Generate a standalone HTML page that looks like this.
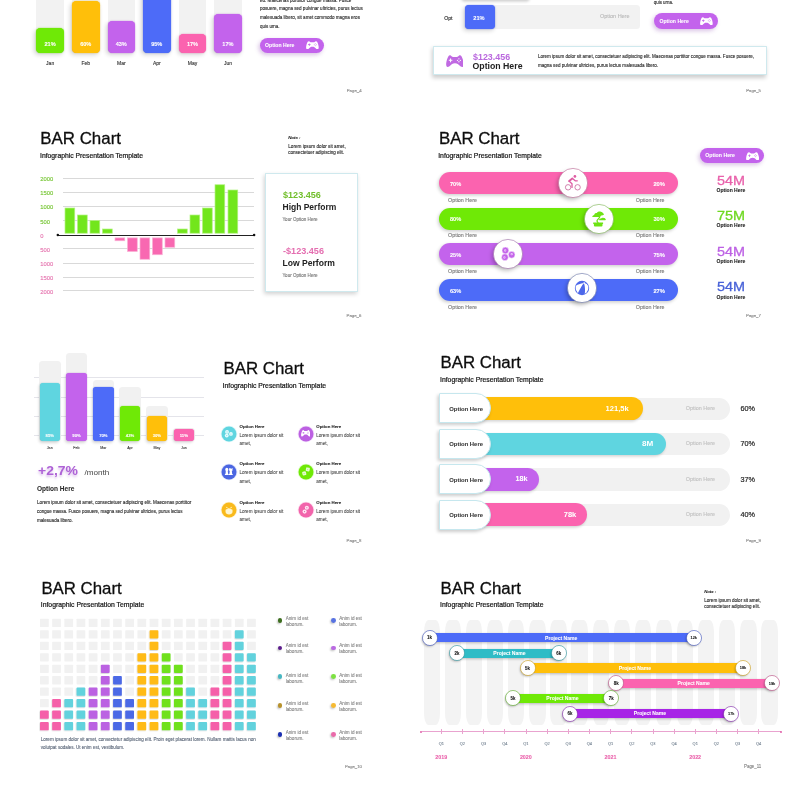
<!DOCTYPE html>
<html lang="en">
<head>
<meta charset="utf-8">
<title>BAR Chart – Infographic Presentation Template</title>
<style>
html,body{margin:0;padding:0;background:#fff;}
body{width:800px;height:800px;position:relative;overflow:hidden;font-family:"Liberation Sans",sans-serif;}
.t{position:absolute;white-space:nowrap;display:block;}
.b{position:absolute;display:block;}
</style>
</head>
<body>
<div class="b" style="left:36.2px;top:-5px;width:27.8px;height:58px;background:#f2f2f2;border-radius:3px;"></div>
<div class="b" style="left:72px;top:-5px;width:27.5px;height:58px;background:#f2f2f2;border-radius:3px;"></div>
<div class="b" style="left:107.5px;top:-5px;width:27.5px;height:58px;background:#f2f2f2;border-radius:3px;"></div>
<div class="b" style="left:143px;top:-5px;width:27.5px;height:58px;background:#f2f2f2;border-radius:3px;"></div>
<div class="b" style="left:178.75px;top:-5px;width:27.5px;height:58px;background:#f2f2f2;border-radius:3px;"></div>
<div class="b" style="left:214px;top:-5px;width:27.75px;height:58px;background:#f2f2f2;border-radius:3px;"></div>
<div class="b" style="left:36.2px;top:28px;width:27.8px;height:25px;background:#6fe906;border-radius:4.2px;box-shadow:-1.5px 2px 4px rgba(0,0,0,.16),0 0 1.2px #6fe906;"></div>
<span class="t" style="left:44.5px;top:41px;font-size:5.6px;line-height:7px;color:#fff;font-weight:700;-webkit-text-stroke:0.07px #fff;">21%</span>
<span class="t" style="left:46.11px;top:60px;font-size:5.01px;line-height:7px;color:#333;-webkit-text-stroke:0.12px #333;">Jan</span>
<div class="b" style="left:72px;top:1px;width:27.5px;height:52px;background:#ffbf0a;border-radius:4.2px;box-shadow:-1.5px 2px 4px rgba(0,0,0,.16),0 0 1.2px #ffbf0a;"></div>
<span class="t" style="left:80.15px;top:41px;font-size:5.6px;line-height:7px;color:#fff;font-weight:700;-webkit-text-stroke:0.07px #fff;">60%</span>
<span class="t" style="left:81.49px;top:60px;font-size:5.01px;line-height:7px;color:#333;-webkit-text-stroke:0.12px #333;">Feb</span>
<div class="b" style="left:107.5px;top:20.5px;width:27.5px;height:32.5px;background:#c363ec;border-radius:4.2px;box-shadow:-1.5px 2px 4px rgba(0,0,0,.16),0 0 1.2px #c363ec;"></div>
<span class="t" style="left:115.65px;top:41px;font-size:5.6px;line-height:7px;color:#fff;font-weight:700;-webkit-text-stroke:0.07px #fff;">43%</span>
<span class="t" style="left:116.99px;top:60px;font-size:5.01px;line-height:7px;color:#333;-webkit-text-stroke:0.12px #333;">Mar</span>
<div class="b" style="left:143px;top:-10px;width:27.5px;height:63px;background:#4d6bf8;border-radius:4.2px;box-shadow:-1.5px 2px 4px rgba(0,0,0,.16),0 0 1.2px #4d6bf8;"></div>
<span class="t" style="left:151.15px;top:41px;font-size:5.6px;line-height:7px;color:#fff;font-weight:700;-webkit-text-stroke:0.07px #fff;">95%</span>
<span class="t" style="left:152.9px;top:60px;font-size:5.01px;line-height:7px;color:#333;-webkit-text-stroke:0.12px #333;">Apr</span>
<div class="b" style="left:178.75px;top:33.5px;width:27.5px;height:19.5px;background:#fb63af;border-radius:4.2px;box-shadow:-1.5px 2px 4px rgba(0,0,0,.16),0 0 1.2px #fb63af;"></div>
<span class="t" style="left:186.9px;top:41px;font-size:5.6px;line-height:7px;color:#fff;font-weight:700;-webkit-text-stroke:0.07px #fff;">17%</span>
<span class="t" style="left:187.82px;top:60px;font-size:5.01px;line-height:7px;color:#333;-webkit-text-stroke:0.12px #333;">May</span>
<div class="b" style="left:214px;top:13.5px;width:27.75px;height:39.5px;background:#c363ec;border-radius:4.2px;box-shadow:-1.5px 2px 4px rgba(0,0,0,.16),0 0 1.2px #c363ec;"></div>
<span class="t" style="left:222.28px;top:41px;font-size:5.6px;line-height:7px;color:#fff;font-weight:700;-webkit-text-stroke:0.07px #fff;">17%</span>
<span class="t" style="left:223.88px;top:60px;font-size:5.01px;line-height:7px;color:#333;-webkit-text-stroke:0.12px #333;">Jun</span>
<span class="t" style="left:260px;top:-2px;font-size:4.57px;line-height:6px;color:#2b2b2b;-webkit-text-stroke:0.12px #2b2b2b;">eu. Maecenas porttitor congue massa. Fusce</span>
<span class="t" style="left:260px;top:6px;font-size:4.57px;line-height:6px;color:#2b2b2b;-webkit-text-stroke:0.12px #2b2b2b;">posuere, magna sed pulvinar ultricies, purus lectus</span>
<span class="t" style="left:260px;top:15px;font-size:4.57px;line-height:6px;color:#2b2b2b;-webkit-text-stroke:0.12px #2b2b2b;">malesuada libero, sit amet commodo magna eros</span>
<span class="t" style="left:260px;top:24px;font-size:4.46px;line-height:6px;color:#2b2b2b;-webkit-text-stroke:0.12px #2b2b2b;">quis urna.</span>
<div class="b" style="left:260px;top:37.5px;width:63.75px;height:15.5px;background:#c363ec;border-radius:7.75px;box-shadow:-1.5px 2px 4px rgba(120,40,160,.28);"></div>
<span class="t" style="left:265.1px;top:42px;font-size:5.12px;line-height:7px;color:#fff;font-weight:700;-webkit-text-stroke:0.07px #fff;">Option Here</span>
<svg class="b" style="left:305.9px;top:40.9px;width:12.8px;height:8.4px" viewBox="0 0 36 24" preserveAspectRatio="none"><path fill="#fff" d="M8 .4C6.6.4 5.6 1 4.9 2.3 2.8 6 .9 11.5.4 16.5 0 20.5.9 23.7 3.4 23.7c2.2 0 3.8-1.1 5.4-2.9C11 18.3 13 16.3 18 16.3s7 2 9.2 4.5c1.6 1.8 3.2 2.9 5.4 2.9 2.5 0 3.4-3.2 3-7.2C35.1 11.5 33.2 6 31.1 2.3 30.4 1 29.4.4 28 .4c-1.6 0-2.4 1.3-3.7 2.6-.7.7-1.5.9-2.5.9h-7.6c-1 0-1.8-.2-2.5-.9C10.4 1.7 9.6.4 8 .4z"/><path fill="#c363ec" d="M8.2 6.9h2v2.6h2.6v2h-2.6v2.6h-2v-2.6H5.6v-2h2.6z"/><circle fill="#c363ec" cx="26" cy="7.6" r="1.3"/><circle fill="#c363ec" cx="26" cy="13.4" r="1.3"/><circle fill="#c363ec" cx="23.1" cy="10.5" r="1.3"/><circle fill="#c363ec" cx="28.9" cy="10.5" r="1.3"/></svg>
<span class="t" style="left:346.75px;top:88px;font-size:4.31px;line-height:6px;color:#858585;-webkit-text-stroke:0.12px #858585;">Page_4</span>
<div class="b" style="left:463px;top:-12px;width:68px;height:12px;background:#fff;border-radius:3px;box-shadow:-1.5px 1.5px 3px rgba(0,0,0,.2);"></div>
<span class="t" style="left:444.25px;top:15px;font-size:5.12px;line-height:7px;color:#222;-webkit-text-stroke:0.12px #222;">Opt</span>
<div class="b" style="left:465px;top:5px;width:174.5px;height:24px;background:#f2f2f2;border-radius:3.5px;"></div>
<div class="b" style="left:465px;top:5px;width:30px;height:24px;background:#4d6bf8;border-radius:4px;box-shadow:-1.5px 2px 4px rgba(0,0,0,.16),0 0 1.2px #4d6bf8;"></div>
<span class="t" style="left:473.3px;top:15px;font-size:5.65px;line-height:7px;color:#fff;font-weight:700;-webkit-text-stroke:0.07px #fff;">21%</span>
<span class="t" style="left:600px;top:13px;font-size:5.47px;line-height:7px;color:#b9b9b9;-webkit-text-stroke:0.12px #b9b9b9;">Option Here</span>
<span class="t" style="left:653.75px;top:0px;font-size:4.45px;line-height:6px;color:#2b2b2b;-webkit-text-stroke:0.12px #2b2b2b;">quis urna.</span>
<div class="b" style="left:653.75px;top:13px;width:64.25px;height:16px;background:#c363ec;border-radius:8px;box-shadow:-1.5px 2px 4px rgba(120,40,160,.28);"></div>
<span class="t" style="left:659.5px;top:18px;font-size:5.11px;line-height:7px;color:#fff;font-weight:700;-webkit-text-stroke:0.07px #fff;">Option Here</span>
<svg class="b" style="left:700px;top:16.5px;width:12.8px;height:8.4px" viewBox="0 0 36 24" preserveAspectRatio="none"><path fill="#fff" d="M8 .4C6.6.4 5.6 1 4.9 2.3 2.8 6 .9 11.5.4 16.5 0 20.5.9 23.7 3.4 23.7c2.2 0 3.8-1.1 5.4-2.9C11 18.3 13 16.3 18 16.3s7 2 9.2 4.5c1.6 1.8 3.2 2.9 5.4 2.9 2.5 0 3.4-3.2 3-7.2C35.1 11.5 33.2 6 31.1 2.3 30.4 1 29.4.4 28 .4c-1.6 0-2.4 1.3-3.7 2.6-.7.7-1.5.9-2.5.9h-7.6c-1 0-1.8-.2-2.5-.9C10.4 1.7 9.6.4 8 .4z"/><path fill="#c363ec" d="M8.2 6.9h2v2.6h2.6v2h-2.6v2.6h-2v-2.6H5.6v-2h2.6z"/><circle fill="#c363ec" cx="26" cy="7.6" r="1.3"/><circle fill="#c363ec" cx="26" cy="13.4" r="1.3"/><circle fill="#c363ec" cx="23.1" cy="10.5" r="1.3"/><circle fill="#c363ec" cx="28.9" cy="10.5" r="1.3"/></svg>
<div class="b" style="left:433px;top:46.25px;width:333.75px;height:28.75px;background:#fff;border-radius:0.5px;border:0.8px solid #cfe9ee;box-sizing:border-box;box-shadow:-1px 2.5px 4px rgba(0,0,0,.2);"></div>
<svg class="b" style="left:445.6px;top:54.75px;width:17.9px;height:12.15px" viewBox="0 0 36 24" preserveAspectRatio="none"><path fill="#c069e2" d="M8 .4C6.6.4 5.6 1 4.9 2.3 2.8 6 .9 11.5.4 16.5 0 20.5.9 23.7 3.4 23.7c2.2 0 3.8-1.1 5.4-2.9C11 18.3 13 16.3 18 16.3s7 2 9.2 4.5c1.6 1.8 3.2 2.9 5.4 2.9 2.5 0 3.4-3.2 3-7.2C35.1 11.5 33.2 6 31.1 2.3 30.4 1 29.4.4 28 .4c-1.6 0-2.4 1.3-3.7 2.6-.7.7-1.5.9-2.5.9h-7.6c-1 0-1.8-.2-2.5-.9C10.4 1.7 9.6.4 8 .4z"/><path fill="#fff" d="M8.2 6.9h2v2.6h2.6v2h-2.6v2.6h-2v-2.6H5.6v-2h2.6z"/><circle fill="#fff" cx="26" cy="7.6" r="1.3"/><circle fill="#fff" cx="26" cy="13.4" r="1.3"/><circle fill="#fff" cx="23.1" cy="10.5" r="1.3"/><circle fill="#fff" cx="28.9" cy="10.5" r="1.3"/></svg>
<span class="t" style="left:472.5px;top:51px;font-size:9.5px;line-height:12px;color:#ba68de;font-weight:700;transform:scaleX(0.936);transform-origin:0 50%;">$123.456</span>
<span class="t" style="left:472.5px;top:61px;font-size:8.74px;line-height:11px;color:#222;font-weight:700;">Option Here</span>
<span class="t" style="left:538px;top:54px;font-size:4.54px;line-height:6px;color:#2b2b2b;-webkit-text-stroke:0.12px #2b2b2b;">Lorem ipsum dolor sit amet, consectetuer adipiscing elit. Maecenas porttitor congue massa. Fusce posuere,</span>
<span class="t" style="left:538px;top:63px;font-size:4.54px;line-height:6px;color:#2b2b2b;-webkit-text-stroke:0.12px #2b2b2b;">magna sed pulvinar ultricies, purus lectus malesuada libero.</span>
<span class="t" style="left:746.25px;top:88px;font-size:4.25px;line-height:6px;color:#858585;-webkit-text-stroke:0.12px #858585;">Page_5</span>
<span class="t" style="left:40.3px;top:129px;font-size:16.89px;line-height:20px;color:#0c0c0c;-webkit-text-stroke:0.3px #111;">BAR Chart</span>
<span class="t" style="left:40px;top:152px;font-size:6.81px;line-height:8px;color:#141414;-webkit-text-stroke:0.2px #141414;">Infographic Presentation Template</span>
<div class="b" style="left:62.5px;top:177.7px;width:191px;height:0.6px;background:#d9d9d9;"></div>
<span class="t" style="left:40.2px;top:176px;font-size:5.85px;line-height:7px;color:#74c531;-webkit-text-stroke:0.12px #74c531;">2000</span>
<div class="b" style="left:62.5px;top:191.8px;width:191px;height:0.6px;background:#d9d9d9;"></div>
<span class="t" style="left:40.2px;top:190px;font-size:5.85px;line-height:7px;color:#74c531;-webkit-text-stroke:0.12px #74c531;">1500</span>
<div class="b" style="left:62.5px;top:205.9px;width:191px;height:0.6px;background:#d9d9d9;"></div>
<span class="t" style="left:40.2px;top:204px;font-size:5.85px;line-height:7px;color:#74c531;-webkit-text-stroke:0.12px #74c531;">1000</span>
<div class="b" style="left:62.5px;top:220px;width:191px;height:0.6px;background:#d9d9d9;"></div>
<span class="t" style="left:40.2px;top:219px;font-size:5.85px;line-height:7px;color:#74c531;-webkit-text-stroke:0.12px #74c531;">500</span>
<span class="t" style="left:40.2px;top:233px;font-size:5.85px;line-height:7px;color:#e573ae;-webkit-text-stroke:0.12px #e573ae;">0</span>
<div class="b" style="left:62.5px;top:248.4px;width:191px;height:0.6px;background:#d9d9d9;"></div>
<span class="t" style="left:40.2px;top:247px;font-size:5.85px;line-height:7px;color:#e573ae;-webkit-text-stroke:0.12px #e573ae;">500</span>
<div class="b" style="left:62.5px;top:262.5px;width:191px;height:0.6px;background:#d9d9d9;"></div>
<span class="t" style="left:40.2px;top:261px;font-size:5.85px;line-height:7px;color:#e573ae;-webkit-text-stroke:0.12px #e573ae;">1000</span>
<div class="b" style="left:62.5px;top:276.6px;width:191px;height:0.6px;background:#d9d9d9;"></div>
<span class="t" style="left:40.2px;top:275px;font-size:5.85px;line-height:7px;color:#e573ae;-webkit-text-stroke:0.12px #e573ae;">1500</span>
<div class="b" style="left:62.5px;top:290.3px;width:191px;height:0.6px;background:#d9d9d9;"></div>
<span class="t" style="left:40.2px;top:289px;font-size:5.85px;line-height:7px;color:#e573ae;-webkit-text-stroke:0.12px #e573ae;">2000</span>
<svg class="b" style="left:0;top:170px;width:400px;height:130px" viewBox="0 170 400 130"><rect x="65" y="208" width="9.75" height="25.2" fill="#72e61c" stroke="#b4f283" stroke-width="0.7"/><rect x="77.5" y="215" width="9.75" height="18.2" fill="#72e61c" stroke="#b4f283" stroke-width="0.7"/><rect x="90" y="220.5" width="9.75" height="12.7" fill="#72e61c" stroke="#b4f283" stroke-width="0.7"/><rect x="102.5" y="229" width="9.75" height="4.2" fill="#72e61c" stroke="#b4f283" stroke-width="0.7"/><rect x="115" y="237.9" width="9.75" height="2.85" fill="#f868b1" stroke="#fbb1d6" stroke-width="0.7"/><rect x="127.5" y="237.9" width="9.75" height="13.6" fill="#f868b1" stroke="#fbb1d6" stroke-width="0.7"/><rect x="140" y="237.9" width="9.75" height="21.35" fill="#f868b1" stroke="#fbb1d6" stroke-width="0.7"/><rect x="152.5" y="237.9" width="9.75" height="16.85" fill="#f868b1" stroke="#fbb1d6" stroke-width="0.7"/><rect x="165" y="237.9" width="9.75" height="9.35" fill="#f868b1" stroke="#fbb1d6" stroke-width="0.7"/><rect x="177.5" y="229" width="9.75" height="4.2" fill="#72e61c" stroke="#b4f283" stroke-width="0.7"/><rect x="190" y="215" width="9.75" height="18.2" fill="#72e61c" stroke="#b4f283" stroke-width="0.7"/><rect x="202.5" y="208" width="9.75" height="25.2" fill="#72e61c" stroke="#b4f283" stroke-width="0.7"/><rect x="215" y="184.75" width="9.75" height="48.45" fill="#72e61c" stroke="#b4f283" stroke-width="0.7"/><rect x="228" y="190" width="9.75" height="43.2" fill="#72e61c" stroke="#b4f283" stroke-width="0.7"/></svg>
<div class="b" style="left:57.75px;top:234.55px;width:196.25px;height:0.7px;background:#222;"></div>
<svg class="b" style="left:50px;top:228px;width:212px;height:14px" viewBox="50 228 212 14"><circle cx="57.8" cy="234.9" r="1.25" fill="#111"/><circle cx="254.1" cy="234.9" r="1.25" fill="#111"/></svg>
<span class="t" style="left:288.25px;top:135px;font-size:4.32px;line-height:6px;color:#222;font-weight:700;font-style:italic;-webkit-text-stroke:0.07px #222;">Note :</span>
<span class="t" style="left:288.25px;top:144px;font-size:4.66px;line-height:6px;color:#2b2b2b;-webkit-text-stroke:0.12px #2b2b2b;">Lorem ipsum dolor sit amet,</span>
<span class="t" style="left:288.25px;top:150px;font-size:4.56px;line-height:6px;color:#2b2b2b;-webkit-text-stroke:0.12px #2b2b2b;">consectetuer adipiscing elit.</span>
<div class="b" style="left:265px;top:173.4px;width:93px;height:118.6px;background:#fff;border-radius:0.5px;border:0.8px solid #cfe9ee;box-sizing:border-box;box-shadow:-1px 2px 4.5px rgba(0,0,0,.18);"></div>
<span class="t" style="left:282.5px;top:189px;font-size:9.51px;line-height:12px;color:#72bf2c;font-weight:700;transform:scaleX(0.956);transform-origin:0 50%;">$123.456</span>
<span class="t" style="left:282.5px;top:202px;font-size:8.49px;line-height:11px;color:#222;font-weight:700;">High Perform</span>
<span class="t" style="left:282.5px;top:217px;font-size:4.55px;line-height:6px;color:#777;-webkit-text-stroke:0.12px #777;">Your Option Here</span>
<span class="t" style="left:282.5px;top:245px;font-size:9.51px;line-height:12px;color:#e46eb0;font-weight:700;transform:scaleX(0.957);transform-origin:0 50%;">-$123.456</span>
<span class="t" style="left:282.5px;top:258px;font-size:8.59px;line-height:11px;color:#222;font-weight:700;">Low Perform</span>
<span class="t" style="left:282.5px;top:273px;font-size:4.55px;line-height:6px;color:#777;-webkit-text-stroke:0.12px #777;">Your Option Here</span>
<span class="t" style="left:346.5px;top:313px;font-size:4.32px;line-height:6px;color:#858585;-webkit-text-stroke:0.12px #858585;">Page_6</span>
<span class="t" style="left:438.9px;top:129px;font-size:16.86px;line-height:20px;color:#0c0c0c;-webkit-text-stroke:0.3px #111;">BAR Chart</span>
<span class="t" style="left:438.2px;top:152px;font-size:6.83px;line-height:8px;color:#141414;-webkit-text-stroke:0.2px #141414;">Infographic Presentation Template</span>
<svg class="b" style="left:0;top:0;width:0;height:0"><defs><filter id="cs" x="-50%" y="-50%" width="200%" height="200%"><feGaussianBlur stdDeviation="2"/></filter></defs></svg>
<div class="b" style="left:439.25px;top:172.4px;width:238.25px;height:21.9px;background:#fb63af;border-radius:11px;box-shadow:-1px 1.5px 3.5px rgba(0,0,0,.2);"></div>
<span class="t" style="left:450px;top:181px;font-size:5.62px;line-height:7px;color:#fff;font-weight:700;-webkit-text-stroke:0.07px #fff;">70%</span>
<span class="t" style="left:653.4px;top:181px;font-size:5.8px;line-height:7px;color:#fff;font-weight:700;-webkit-text-stroke:0.07px #fff;">20%</span>
<span class="t" style="left:448px;top:197px;font-size:5.38px;line-height:7px;color:#7a7a7a;-webkit-text-stroke:0.12px #7a7a7a;">Option Here</span>
<span class="t" style="left:635.75px;top:197px;font-size:5.33px;line-height:7px;color:#7a7a7a;-webkit-text-stroke:0.12px #7a7a7a;">Option Here</span>
<svg class="b" style="left:547.75px;top:158px;width:50px;height:50px" viewBox="-25 -25 50 50"><circle cx="-1.8" cy="2.4" r="14.2" fill="rgba(0,0,0,.26)" filter="url(#cs)"/><circle cx="0" cy="0" r="14.6" fill="#fff" stroke="#b5588a" stroke-width="0.55"/></svg>
<div class="b" style="left:439.25px;top:208px;width:238.25px;height:21.8px;background:#6fe906;border-radius:11px;box-shadow:-1px 1.5px 3.5px rgba(0,0,0,.2);"></div>
<span class="t" style="left:450px;top:216px;font-size:5.62px;line-height:7px;color:#fff;font-weight:700;-webkit-text-stroke:0.07px #fff;">80%</span>
<span class="t" style="left:653.4px;top:216px;font-size:5.8px;line-height:7px;color:#fff;font-weight:700;-webkit-text-stroke:0.07px #fff;">30%</span>
<span class="t" style="left:448px;top:232px;font-size:5.38px;line-height:7px;color:#7a7a7a;-webkit-text-stroke:0.12px #7a7a7a;">Option Here</span>
<span class="t" style="left:635.75px;top:232px;font-size:5.33px;line-height:7px;color:#7a7a7a;-webkit-text-stroke:0.12px #7a7a7a;">Option Here</span>
<svg class="b" style="left:573.8px;top:193.8px;width:50px;height:50px" viewBox="-25 -25 50 50"><circle cx="-1.8" cy="2.4" r="14.2" fill="rgba(0,0,0,.26)" filter="url(#cs)"/><circle cx="0" cy="0" r="14.6" fill="#fff" stroke="#6fae40" stroke-width="0.55"/></svg>
<div class="b" style="left:439.25px;top:243.4px;width:238.25px;height:21.8px;background:#c363ec;border-radius:11px;box-shadow:-1px 1.5px 3.5px rgba(0,0,0,.2);"></div>
<span class="t" style="left:450px;top:252px;font-size:5.62px;line-height:7px;color:#fff;font-weight:700;-webkit-text-stroke:0.07px #fff;">25%</span>
<span class="t" style="left:653.4px;top:252px;font-size:5.8px;line-height:7px;color:#fff;font-weight:700;-webkit-text-stroke:0.07px #fff;">75%</span>
<span class="t" style="left:448px;top:268px;font-size:5.38px;line-height:7px;color:#7a7a7a;-webkit-text-stroke:0.12px #7a7a7a;">Option Here</span>
<span class="t" style="left:635.75px;top:268px;font-size:5.33px;line-height:7px;color:#7a7a7a;-webkit-text-stroke:0.12px #7a7a7a;">Option Here</span>
<svg class="b" style="left:483.3px;top:228.8px;width:50px;height:50px" viewBox="-25 -25 50 50"><circle cx="-1.8" cy="2.4" r="14.2" fill="rgba(0,0,0,.26)" filter="url(#cs)"/><circle cx="0" cy="0" r="14.6" fill="#fff" stroke="#94609f" stroke-width="0.55"/></svg>
<div class="b" style="left:439.25px;top:279.3px;width:238.25px;height:22px;background:#4d6bf8;border-radius:11px;box-shadow:-1px 1.5px 3.5px rgba(0,0,0,.2);"></div>
<span class="t" style="left:450px;top:288px;font-size:5.62px;line-height:7px;color:#fff;font-weight:700;-webkit-text-stroke:0.07px #fff;">63%</span>
<span class="t" style="left:653.4px;top:288px;font-size:5.8px;line-height:7px;color:#fff;font-weight:700;-webkit-text-stroke:0.07px #fff;">27%</span>
<span class="t" style="left:448px;top:304px;font-size:5.38px;line-height:7px;color:#7a7a7a;-webkit-text-stroke:0.12px #7a7a7a;">Option Here</span>
<span class="t" style="left:635.75px;top:304px;font-size:5.33px;line-height:7px;color:#7a7a7a;-webkit-text-stroke:0.12px #7a7a7a;">Option Here</span>
<svg class="b" style="left:557px;top:263.2px;width:50px;height:50px" viewBox="-25 -25 50 50"><circle cx="-1.8" cy="2.4" r="14.2" fill="rgba(0,0,0,.26)" filter="url(#cs)"/><circle cx="0" cy="0" r="14.6" fill="#fff" stroke="#5a669f" stroke-width="0.55"/></svg>
<svg class="b" style="left:564px;top:174px;width:18px;height:18px" viewBox="0 0 18 18"><g fill="none" stroke="#c45c95" stroke-width="0.75"><circle cx="4.1" cy="13.3" r="2.7"/><circle cx="13.6" cy="13.3" r="2.7"/></g><circle cx="10.9" cy="2.4" r="1.35" fill="#de5ca3"/><path fill="none" stroke="#de5ca3" stroke-width="1.9" stroke-linecap="round" stroke-linejoin="round" d="M8.3 4.5L5.2 7.1"/><path fill="none" stroke="#de5ca3" stroke-width="1.3" stroke-linecap="round" stroke-linejoin="round" d="M5.2 7.2L8 9.7V13.4M8.5 4.4L11.2 6.8H13.3"/></svg>
<svg class="b" style="left:591px;top:210.5px;width:16px;height:16px" viewBox="0 0 16 16"><g fill="#6ee314"><path d="M1.2 5.9C1.4 4.6 2.4 4 3.2 3.9 3.4 2.5 4.6 1.9 5.8 2 6.6.9 8.3.4 9.8.7c1.4.3 2.2 1.1 2.4 1.9.6.1.9.4.8.8-.8.5-1.7 1-2.6 1.2L9.3 4.9 8.6 6.1H2.2C1.6 6.1 1.2 6.1 1.2 5.9z"/><path d="M8 9.1C8.2 8 9.2 7.5 10 7.6c.6-.9 2-1.1 2.8-.5 1 0 1.8.7 2 1.5.1.4-.2.6-.6.6H8.4z"/><path d="M2.2 11.5h9.9v1.4h-.6v1.5a1 1 0 0 1-1 1H3.9a1 1 0 0 1-1-1v-1.5h-.7z"/></g><path fill="none" stroke="#6ee314" stroke-width="1.25" stroke-linecap="round" d="M9 4.6C8.8 6.5 8 7.6 6.8 8.4 5.6 9.2 5.8 10.4 7 11.7"/></svg>
<svg class="b" style="left:500.3px;top:245.8px;width:16px;height:16px" viewBox="0 0 16 16"><circle cx="5.4" cy="4.5" r="3.4" fill="#c465ea" stroke="#fff" stroke-width="0.5"/><circle cx="5.2" cy="4.5" r="1.15" fill="#ecccf8"/><circle cx="5.2" cy="4.5" r="0.4" fill="#c465ea"/><circle cx="11.65" cy="8.75" r="3.4" fill="#c465ea" stroke="#fff" stroke-width="0.5"/><circle cx="11.7" cy="8.2" r="1.15" fill="#ecccf8"/><circle cx="11.7" cy="8.2" r="0.4" fill="#c465ea"/><circle cx="4.9" cy="11.25" r="3.4" fill="#c465ea" stroke="#fff" stroke-width="0.5"/><circle cx="4.4" cy="11.5" r="1.15" fill="#ecccf8"/><circle cx="4.4" cy="11.5" r="0.4" fill="#c465ea"/></svg>
<svg class="b" style="left:574.15px;top:280.4px;width:16px;height:16px" viewBox="0 0 16 16"><defs><clipPath id="bb"><circle cx="8" cy="8" r="6.35"/></clipPath></defs><circle cx="8" cy="8" r="7.2" fill="#4d68ea"/><g fill="#fff" clip-path="url(#bb)"><path d="M9.8 3C6.3 3.4 3 4.8 0.5 6.6V10L3.3 14.5C5 10.5 7.5 6 9.8 3Z"/><path d="M9.9 3C11.1 6 11.4 10.5 10.5 15.5H16V6.2C14 4.5 12 3.4 9.9 3Z"/><circle cx="10.3" cy="2.9" r="0.9"/></g></svg>
<div class="b" style="left:699.5px;top:148px;width:64.75px;height:15.25px;background:#c363ec;border-radius:7.625px;box-shadow:-1.5px 2px 4px rgba(120,40,160,.28);"></div>
<span class="t" style="left:705.25px;top:152px;font-size:5.2px;line-height:7px;color:#fff;font-weight:700;-webkit-text-stroke:0.07px #fff;">Option Here</span>
<svg class="b" style="left:746.3px;top:151.5px;width:13.2px;height:8.6px" viewBox="0 0 36 24" preserveAspectRatio="none"><path fill="#fff" d="M8 .4C6.6.4 5.6 1 4.9 2.3 2.8 6 .9 11.5.4 16.5 0 20.5.9 23.7 3.4 23.7c2.2 0 3.8-1.1 5.4-2.9C11 18.3 13 16.3 18 16.3s7 2 9.2 4.5c1.6 1.8 3.2 2.9 5.4 2.9 2.5 0 3.4-3.2 3-7.2C35.1 11.5 33.2 6 31.1 2.3 30.4 1 29.4.4 28 .4c-1.6 0-2.4 1.3-3.7 2.6-.7.7-1.5.9-2.5.9h-7.6c-1 0-1.8-.2-2.5-.9C10.4 1.7 9.6.4 8 .4z"/><path fill="#c363ec" d="M8.2 6.9h2v2.6h2.6v2h-2.6v2.6h-2v-2.6H5.6v-2h2.6z"/><circle fill="#c363ec" cx="26" cy="7.6" r="1.3"/><circle fill="#c363ec" cx="26" cy="13.4" r="1.3"/><circle fill="#c363ec" cx="23.1" cy="10.5" r="1.3"/><circle fill="#c363ec" cx="28.9" cy="10.5" r="1.3"/></svg>
<span class="t" style="left:716.5px;top:173px;font-size:12.85px;line-height:16px;color:#e962ab;-webkit-text-stroke:0.3px #e962ab;transform:scaleX(1.123);transform-origin:0 50%;">54M</span>
<span class="t" style="left:716.5px;top:187px;font-size:5.04px;line-height:7px;color:#1a1a1a;font-weight:700;-webkit-text-stroke:0.07px #1a1a1a;">Option Here</span>
<span class="t" style="left:716.5px;top:208px;font-size:12.85px;line-height:16px;color:#6fd822;-webkit-text-stroke:0.3px #6fd822;transform:scaleX(1.123);transform-origin:0 50%;">75M</span>
<span class="t" style="left:716.5px;top:222px;font-size:5.04px;line-height:7px;color:#1a1a1a;font-weight:700;-webkit-text-stroke:0.07px #1a1a1a;">Option Here</span>
<span class="t" style="left:716.5px;top:244px;font-size:12.85px;line-height:16px;color:#bd62e4;-webkit-text-stroke:0.3px #bd62e4;transform:scaleX(1.123);transform-origin:0 50%;">54M</span>
<span class="t" style="left:716.5px;top:258px;font-size:5.04px;line-height:7px;color:#1a1a1a;font-weight:700;-webkit-text-stroke:0.07px #1a1a1a;">Option Here</span>
<span class="t" style="left:716.5px;top:279px;font-size:12.85px;line-height:16px;color:#4862d8;-webkit-text-stroke:0.3px #4862d8;transform:scaleX(1.123);transform-origin:0 50%;">54M</span>
<span class="t" style="left:716.5px;top:294px;font-size:5.04px;line-height:7px;color:#1a1a1a;font-weight:700;-webkit-text-stroke:0.07px #1a1a1a;">Option Here</span>
<span class="t" style="left:746px;top:313px;font-size:4.32px;line-height:6px;color:#858585;-webkit-text-stroke:0.12px #858585;">Page_7</span>
<div class="b" style="left:33.75px;top:377.2px;width:170px;height:0.6px;background:#e4e4ea;"></div>
<div class="b" style="left:33.75px;top:396.7px;width:170px;height:0.6px;background:#e4e4ea;"></div>
<div class="b" style="left:33.75px;top:415.95px;width:170px;height:0.6px;background:#e4e4ea;"></div>
<div class="b" style="left:33.75px;top:434.95px;width:170px;height:0.6px;background:#e4e4ea;"></div>
<div class="b" style="left:38.75px;top:360.5px;width:22px;height:80.5px;background:#f1f1f1;border-radius:3.6px;"></div>
<div class="b" style="left:65.5px;top:353px;width:21.75px;height:88px;background:#f1f1f1;border-radius:3.6px;"></div>
<div class="b" style="left:92.5px;top:379.5px;width:21.5px;height:61.5px;background:#f1f1f1;border-radius:3.6px;"></div>
<div class="b" style="left:119.25px;top:387px;width:21.5px;height:54px;background:#f1f1f1;border-radius:3.6px;"></div>
<div class="b" style="left:146px;top:406.25px;width:21.5px;height:34.75px;background:#f1f1f1;border-radius:3.6px;"></div>
<div class="b" style="left:173px;top:427.5px;width:21.75px;height:13.5px;background:#f1f1f1;border-radius:3.6px;"></div>
<div class="b" style="left:39.5px;top:382.5px;width:20.5px;height:58px;background:#5fd5e0;border-radius:3.2px;box-shadow:-1px 1.5px 3px rgba(0,0,0,.16),0 0 1px #5fd5e0;"></div>
<span class="t" style="left:45.55px;top:433px;font-size:4.2px;line-height:6px;color:#fff;font-weight:700;-webkit-text-stroke:0.07px #fff;">85%</span>
<span class="t" style="left:46.81px;top:446px;font-size:3.65px;line-height:5px;color:#333;-webkit-text-stroke:0.08px #333;">Jan</span>
<div class="b" style="left:66.25px;top:373px;width:20.5px;height:67.5px;background:#c363ec;border-radius:3.2px;box-shadow:-1px 1.5px 3px rgba(0,0,0,.16),0 0 1px #c363ec;"></div>
<span class="t" style="left:72.3px;top:433px;font-size:4.2px;line-height:6px;color:#fff;font-weight:700;-webkit-text-stroke:0.07px #fff;">90%</span>
<span class="t" style="left:73.36px;top:446px;font-size:3.65px;line-height:5px;color:#333;-webkit-text-stroke:0.08px #333;">Feb</span>
<div class="b" style="left:93.25px;top:387px;width:20.25px;height:53.5px;background:#4d6bf8;border-radius:3.2px;box-shadow:-1px 1.5px 3px rgba(0,0,0,.16),0 0 1px #4d6bf8;"></div>
<span class="t" style="left:99.17px;top:433px;font-size:4.2px;line-height:6px;color:#fff;font-weight:700;-webkit-text-stroke:0.07px #fff;">70%</span>
<span class="t" style="left:100.23px;top:446px;font-size:3.65px;line-height:5px;color:#333;-webkit-text-stroke:0.08px #333;">Mar</span>
<div class="b" style="left:120px;top:406.25px;width:20px;height:34.25px;background:#6fe906;border-radius:3.2px;box-shadow:-1px 1.5px 3px rgba(0,0,0,.16),0 0 1px #6fe906;"></div>
<span class="t" style="left:125.8px;top:433px;font-size:4.2px;line-height:6px;color:#fff;font-weight:700;-webkit-text-stroke:0.07px #fff;">43%</span>
<span class="t" style="left:127.16px;top:446px;font-size:3.65px;line-height:5px;color:#333;-webkit-text-stroke:0.08px #333;">Apr</span>
<div class="b" style="left:146.75px;top:415.5px;width:20.25px;height:25px;background:#ffbf0a;border-radius:3.2px;box-shadow:-1px 1.5px 3px rgba(0,0,0,.16),0 0 1px #ffbf0a;"></div>
<span class="t" style="left:152.68px;top:433px;font-size:4.2px;line-height:6px;color:#fff;font-weight:700;-webkit-text-stroke:0.07px #fff;">30%</span>
<span class="t" style="left:153.43px;top:446px;font-size:3.65px;line-height:5px;color:#333;-webkit-text-stroke:0.08px #333;">May</span>
<div class="b" style="left:173.75px;top:429.25px;width:20.25px;height:11.25px;background:#fb63af;border-radius:3.2px;box-shadow:-1px 1.5px 3px rgba(0,0,0,.16),0 0 1px #fb63af;"></div>
<span class="t" style="left:179.68px;top:433px;font-size:4.32px;line-height:6px;color:#fff;font-weight:700;-webkit-text-stroke:0.07px #fff;">11%</span>
<span class="t" style="left:180.93px;top:446px;font-size:3.65px;line-height:5px;color:#333;-webkit-text-stroke:0.08px #333;">Jun</span>
<span class="t" style="left:37.5px;top:463px;font-size:12.9px;line-height:16px;color:#ae62d6;font-weight:700;text-shadow:-0.5px 1.5px 2.5px rgba(150,60,200,.35);transform:scaleX(1.083);transform-origin:0 50%;">+2,7%</span>
<span class="t" style="left:84.5px;top:468px;font-size:8.1px;line-height:10px;color:#444;">/month</span>
<span class="t" style="left:37px;top:485px;font-size:6.52px;line-height:8px;color:#2a2a2a;font-weight:700;-webkit-text-stroke:0.05px #2a2a2a;">Option Here</span>
<span class="t" style="left:37px;top:500px;font-size:4.61px;line-height:6px;color:#2b2b2b;-webkit-text-stroke:0.12px #2b2b2b;">Lorem ipsum dolor sit amet, consectetuer adipiscing elit. Maecenas porttitor</span>
<span class="t" style="left:37px;top:509px;font-size:4.48px;line-height:6px;color:#2b2b2b;-webkit-text-stroke:0.12px #2b2b2b;">congue massa. Fusce posuere, magna sed pulvinar ultricies, purus lectus</span>
<span class="t" style="left:37px;top:518px;font-size:4.54px;line-height:6px;color:#2b2b2b;-webkit-text-stroke:0.12px #2b2b2b;">malesuada libero.</span>
<span class="t" style="left:223.4px;top:359px;font-size:16.86px;line-height:20px;color:#0c0c0c;-webkit-text-stroke:0.3px #111;">BAR Chart</span>
<span class="t" style="left:222.6px;top:382px;font-size:6.84px;line-height:8px;color:#141414;-webkit-text-stroke:0.2px #141414;">Infographic Presentation Template</span>
<svg class="b" style="left:218.8px;top:423.65px;width:20px;height:20px" viewBox="-10 -10 20 20"><circle r="8.3" fill="#5fd5e0" opacity=".22"/><circle r="7.45" fill="#5fd5e0"/><g fill="#eafcfe"><circle cx="-1.95" cy="-2.1" r="1.9"/><circle cx="1.95" cy="-0.05" r="1.9"/><circle cx="-2.25" cy="1.6" r="1.9"/></g><g fill="#5fd5e0" opacity=".8"><circle cx="-1.95" cy="-2.1" r=".55"/><circle cx="1.95" cy="-0.05" r=".55"/><circle cx="-2.25" cy="1.6" r=".55"/></g></svg>
<span class="t" style="left:239.5px;top:424px;font-size:4.37px;line-height:6px;color:#1c1c1c;font-weight:700;-webkit-text-stroke:0.07px #1c1c1c;">Option Here</span>
<span class="t" style="left:239.5px;top:433px;font-size:4.58px;line-height:6px;color:#3a3a3a;-webkit-text-stroke:0.05px #3a3a3a;">Lorem ipsum dolor sit</span>
<span class="t" style="left:239.5px;top:441px;font-size:4.64px;line-height:6px;color:#3a3a3a;-webkit-text-stroke:0.05px #3a3a3a;">amet,</span>
<svg class="b" style="left:295.7px;top:423.7px;width:20px;height:20px" viewBox="-10 -10 20 20"><circle r="8.3" fill="#bc60e2" opacity=".22"/><circle r="7.45" fill="#bc60e2"/></svg>
<span class="t" style="left:316.25px;top:424px;font-size:4.37px;line-height:6px;color:#1c1c1c;font-weight:700;-webkit-text-stroke:0.07px #1c1c1c;">Option Here</span>
<span class="t" style="left:316.25px;top:433px;font-size:4.58px;line-height:6px;color:#3a3a3a;-webkit-text-stroke:0.05px #3a3a3a;">Lorem ipsum dolor sit</span>
<span class="t" style="left:316.25px;top:441px;font-size:4.64px;line-height:6px;color:#3a3a3a;-webkit-text-stroke:0.05px #3a3a3a;">amet,</span>
<svg class="b" style="left:218.9px;top:461.85px;width:20px;height:20px" viewBox="-10 -10 20 20"><circle r="8.3" fill="#4b66e2" opacity=".22"/><circle r="7.45" fill="#4b66e2"/><g fill="#fff"><path d="M-4.1 3h3.8V1.9H-.8L-1.3-.7h.5v-.8h-.4a1.55 1.55 0 1 0-2 0h-.4v.8h.5L-3.6 1.9H-4.1z"/><path d="M-.1 3h3.8V1.9H3.2L2.8-1.2h.7V-4H2.7v.9H2.1V-4H1.4v.9H.8V-4H.1v2.8h.7L.4 1.9H-.1z"/></g></svg>
<span class="t" style="left:239.5px;top:461px;font-size:4.37px;line-height:6px;color:#1c1c1c;font-weight:700;-webkit-text-stroke:0.07px #1c1c1c;">Option Here</span>
<span class="t" style="left:239.5px;top:470px;font-size:4.58px;line-height:6px;color:#3a3a3a;-webkit-text-stroke:0.05px #3a3a3a;">Lorem ipsum dolor sit</span>
<span class="t" style="left:239.5px;top:479px;font-size:4.64px;line-height:6px;color:#3a3a3a;-webkit-text-stroke:0.05px #3a3a3a;">amet,</span>
<svg class="b" style="left:295.7px;top:461.8px;width:20px;height:20px" viewBox="-10 -10 20 20"><circle r="8.3" fill="#6fe906" opacity=".22"/><circle r="7.45" fill="#6fe906"/><g fill="#fff" opacity=".82"><rect x="-3.65" y="-0.5" width="3.8" height="3.8" rx=".9" transform="rotate(-14 -1.75 1.4)"/><rect x="-0.1" y="-4.45" width="3.8" height="3.8" rx=".9" transform="rotate(12 1.8 -2.55)"/></g><g fill="#6fe906" opacity=".7"><circle cx="-2.2" cy="1.4" r=".4"/><circle cx="-1.2" cy="1.5" r=".4"/><circle cx="1.8" cy="-2.5" r=".4"/></g></svg>
<span class="t" style="left:316.25px;top:461px;font-size:4.37px;line-height:6px;color:#1c1c1c;font-weight:700;-webkit-text-stroke:0.07px #1c1c1c;">Option Here</span>
<span class="t" style="left:316.25px;top:470px;font-size:4.58px;line-height:6px;color:#3a3a3a;-webkit-text-stroke:0.05px #3a3a3a;">Lorem ipsum dolor sit</span>
<span class="t" style="left:316.25px;top:479px;font-size:4.64px;line-height:6px;color:#3a3a3a;-webkit-text-stroke:0.05px #3a3a3a;">amet,</span>
<svg class="b" style="left:219px;top:499.7px;width:20px;height:20px" viewBox="-10 -10 20 20"><circle r="8.3" fill="#f9ba1c" opacity=".22"/><circle r="7.45" fill="#f9ba1c"/><path fill="#fff6d0" d="M-3.45-.1C-3.45-.6-1.9-.9 0-.9S3.5-.6 3.5-.1V1.7C3.5 3.4 1.9 4.4 0 4.4S-3.45 3.4-3.45 1.7z"/><path d="M-2.7-2.7L-.2-1.3M2.7-2.7L.6-1.5" stroke="#fff6d0" stroke-width=".75" stroke-linecap="round"/></svg>
<span class="t" style="left:239.5px;top:500px;font-size:4.37px;line-height:6px;color:#1c1c1c;font-weight:700;-webkit-text-stroke:0.07px #1c1c1c;">Option Here</span>
<span class="t" style="left:239.5px;top:509px;font-size:4.58px;line-height:6px;color:#3a3a3a;-webkit-text-stroke:0.05px #3a3a3a;">Lorem ipsum dolor sit</span>
<span class="t" style="left:239.5px;top:517px;font-size:4.64px;line-height:6px;color:#3a3a3a;-webkit-text-stroke:0.05px #3a3a3a;">amet,</span>
<svg class="b" style="left:295.7px;top:499.7px;width:20px;height:20px" viewBox="-10 -10 20 20"><circle r="8.3" fill="#f264ab" opacity=".22"/><circle r="7.45" fill="#f264ab"/><g fill="#ffe3f2"><circle cx=".85" cy="-2.3" r="2.05"/><circle cx="-1.4" cy="1.6" r="2.05"/></g><g fill="#d64f97"><circle cx=".85" cy="-2.3" r=".55"/><circle cx="-1.4" cy="1.6" r=".55"/><circle cx="-1.3" cy="-1.4" r=".3"/></g></svg>
<span class="t" style="left:316.25px;top:500px;font-size:4.37px;line-height:6px;color:#1c1c1c;font-weight:700;-webkit-text-stroke:0.07px #1c1c1c;">Option Here</span>
<span class="t" style="left:316.25px;top:509px;font-size:4.58px;line-height:6px;color:#3a3a3a;-webkit-text-stroke:0.05px #3a3a3a;">Lorem ipsum dolor sit</span>
<span class="t" style="left:316.25px;top:517px;font-size:4.64px;line-height:6px;color:#3a3a3a;-webkit-text-stroke:0.05px #3a3a3a;">amet,</span>
<svg class="b" style="left:300.9px;top:430.4px;width:9.6px;height:6.6px" viewBox="0 0 36 24" preserveAspectRatio="none"><path fill="#fff" d="M8 .4C6.6.4 5.6 1 4.9 2.3 2.8 6 .9 11.5.4 16.5 0 20.5.9 23.7 3.4 23.7c2.2 0 3.8-1.1 5.4-2.9C11 18.3 13 16.3 18 16.3s7 2 9.2 4.5c1.6 1.8 3.2 2.9 5.4 2.9 2.5 0 3.4-3.2 3-7.2C35.1 11.5 33.2 6 31.1 2.3 30.4 1 29.4.4 28 .4c-1.6 0-2.4 1.3-3.7 2.6-.7.7-1.5.9-2.5.9h-7.6c-1 0-1.8-.2-2.5-.9C10.4 1.7 9.6.4 8 .4z"/><path fill="#bc60e2" d="M8.2 6.9h2v2.6h2.6v2h-2.6v2.6h-2v-2.6H5.6v-2h2.6z"/><circle fill="#bc60e2" cx="26" cy="7.6" r="1.3"/><circle fill="#bc60e2" cx="26" cy="13.4" r="1.3"/><circle fill="#bc60e2" cx="23.1" cy="10.5" r="1.3"/><circle fill="#bc60e2" cx="28.9" cy="10.5" r="1.3"/></svg>
<span class="t" style="left:346.5px;top:538px;font-size:4.32px;line-height:6px;color:#858585;-webkit-text-stroke:0.12px #858585;">Page_8</span>
<span class="t" style="left:440.6px;top:353px;font-size:16.82px;line-height:20px;color:#0c0c0c;-webkit-text-stroke:0.3px #111;">BAR Chart</span>
<span class="t" style="left:440px;top:376px;font-size:6.84px;line-height:8px;color:#141414;-webkit-text-stroke:0.2px #141414;">Infographic Presentation Template</span>
<div class="b" style="left:470px;top:397.5px;width:260px;height:22.4px;background:#f1f1f1;border-radius:0 11.4px 11.4px 0;"></div>
<div class="b" style="left:470px;top:397.2px;width:172.5px;height:22.8px;background:#ffbf0a;border-radius:0 11.4px 11.4px 0;box-shadow:-1px 1.5px 3px rgba(0,0,0,.18);"></div>
<span class="t" style="left:605.5px;top:404px;font-size:7.6px;line-height:10px;color:#fff;font-weight:700;">121,5k</span>
<span class="t" style="left:685.75px;top:405px;font-size:5.43px;line-height:7px;color:#c2c2c2;-webkit-text-stroke:0.12px #c2c2c2;">Option Here</span>
<span class="t" style="left:740.5px;top:404px;font-size:7.24px;line-height:10px;color:#262626;-webkit-text-stroke:0.2px #262626;">60%</span>
<div class="b" style="left:439px;top:393.25px;width:51.75px;height:30px;background:#fff;border-radius:1px 15px 15px 1px;border:0.7px solid #c6e7ee;box-sizing:border-box;box-shadow:-1.5px 2px 3.5px rgba(0,0,0,.2);"></div>
<span class="t" style="left:449.25px;top:406px;font-size:5.9px;line-height:7px;color:#3a3a3a;font-weight:700;-webkit-text-stroke:0.07px #3a3a3a;">Option Here</span>
<div class="b" style="left:470px;top:432.8px;width:260px;height:22.3px;background:#f1f1f1;border-radius:0 11.3px 11.3px 0;"></div>
<div class="b" style="left:470px;top:432.5px;width:196.25px;height:22.7px;background:#5fd5e0;border-radius:0 11.3px 11.3px 0;box-shadow:-1px 1.5px 3px rgba(0,0,0,.18);"></div>
<span class="t" style="left:642px;top:439px;font-size:8.1px;line-height:10px;color:#fff;font-weight:700;">8M</span>
<span class="t" style="left:685.75px;top:440px;font-size:5.43px;line-height:7px;color:#c2c2c2;-webkit-text-stroke:0.12px #c2c2c2;">Option Here</span>
<span class="t" style="left:740.5px;top:439px;font-size:7.24px;line-height:10px;color:#262626;-webkit-text-stroke:0.2px #262626;">70%</span>
<div class="b" style="left:439px;top:428.75px;width:51.75px;height:30px;background:#fff;border-radius:1px 15px 15px 1px;border:0.7px solid #c6e7ee;box-sizing:border-box;box-shadow:-1.5px 2px 3.5px rgba(0,0,0,.2);"></div>
<span class="t" style="left:449.25px;top:441px;font-size:5.9px;line-height:7px;color:#3a3a3a;font-weight:700;-webkit-text-stroke:0.07px #3a3a3a;">Option Here</span>
<div class="b" style="left:470px;top:468.3px;width:260px;height:22.4px;background:#f1f1f1;border-radius:0 11.4px 11.4px 0;"></div>
<div class="b" style="left:470px;top:468px;width:69px;height:22.8px;background:#c363ec;border-radius:0 11.4px 11.4px 0;box-shadow:-1px 1.5px 3px rgba(0,0,0,.18);"></div>
<span class="t" style="left:515.5px;top:474px;font-size:7.28px;line-height:10px;color:#fff;font-weight:700;-webkit-text-stroke:0.05px #fff;">18k</span>
<span class="t" style="left:685.75px;top:476px;font-size:5.43px;line-height:7px;color:#c2c2c2;-webkit-text-stroke:0.12px #c2c2c2;">Option Here</span>
<span class="t" style="left:740.5px;top:475px;font-size:7.24px;line-height:10px;color:#262626;-webkit-text-stroke:0.2px #262626;">37%</span>
<div class="b" style="left:439px;top:464.25px;width:51.75px;height:30px;background:#fff;border-radius:1px 15px 15px 1px;border:0.7px solid #c6e7ee;box-sizing:border-box;box-shadow:-1.5px 2px 3.5px rgba(0,0,0,.2);"></div>
<span class="t" style="left:449.25px;top:477px;font-size:5.9px;line-height:7px;color:#3a3a3a;font-weight:700;-webkit-text-stroke:0.07px #3a3a3a;">Option Here</span>
<div class="b" style="left:470px;top:503.55px;width:260px;height:22.25px;background:#f1f1f1;border-radius:0 11.3px 11.3px 0;"></div>
<div class="b" style="left:470px;top:503.25px;width:116.75px;height:22.65px;background:#fb63af;border-radius:0 11.3px 11.3px 0;box-shadow:-1px 1.5px 3px rgba(0,0,0,.18);"></div>
<span class="t" style="left:563.75px;top:510px;font-size:7.49px;line-height:10px;color:#fff;font-weight:700;-webkit-text-stroke:0.05px #fff;">78k</span>
<span class="t" style="left:685.75px;top:511px;font-size:5.43px;line-height:7px;color:#c2c2c2;-webkit-text-stroke:0.12px #c2c2c2;">Option Here</span>
<span class="t" style="left:740.5px;top:510px;font-size:7.24px;line-height:10px;color:#262626;-webkit-text-stroke:0.2px #262626;">40%</span>
<div class="b" style="left:439px;top:499.5px;width:51.75px;height:30px;background:#fff;border-radius:1px 15px 15px 1px;border:0.7px solid #c6e7ee;box-sizing:border-box;box-shadow:-1.5px 2px 3.5px rgba(0,0,0,.2);"></div>
<span class="t" style="left:449.25px;top:512px;font-size:5.9px;line-height:7px;color:#3a3a3a;font-weight:700;-webkit-text-stroke:0.07px #3a3a3a;">Option Here</span>
<span class="t" style="left:746px;top:538px;font-size:4.32px;line-height:6px;color:#858585;-webkit-text-stroke:0.12px #858585;">Page_9</span>
<span class="t" style="left:41.4px;top:579px;font-size:16.81px;line-height:20px;color:#0c0c0c;-webkit-text-stroke:0.3px #111;">BAR Chart</span>
<span class="t" style="left:40.75px;top:601px;font-size:6.83px;line-height:8px;color:#141414;-webkit-text-stroke:0.2px #141414;">Infographic Presentation Template</span>
<svg class="b" style="left:0;top:0;width:400px;height:800px;overflow:visible" viewBox="0 0 400 800"><defs><filter id="gs" x="-5%" y="-5%" width="110%" height="110%"><feDropShadow dx="-0.4" dy="0.6" stdDeviation="0.7" flood-color="#000" flood-opacity="0.22"/></filter></defs><g fill="#f1f1f1"><rect x="40" y="618.75" width="8.75" height="8.3" rx="0.6"/><rect x="40" y="630.22" width="8.75" height="8.3" rx="0.6"/><rect x="40" y="641.69" width="8.75" height="8.3" rx="0.6"/><rect x="40" y="653.16" width="8.75" height="8.3" rx="0.6"/><rect x="40" y="664.63" width="8.75" height="8.3" rx="0.6"/><rect x="40" y="676.1" width="8.75" height="8.3" rx="0.6"/><rect x="40" y="687.57" width="8.75" height="8.3" rx="0.6"/><rect x="40" y="699.04" width="8.75" height="8.3" rx="0.6"/><rect x="52.18" y="618.75" width="8.75" height="8.3" rx="0.6"/><rect x="52.18" y="630.22" width="8.75" height="8.3" rx="0.6"/><rect x="52.18" y="641.69" width="8.75" height="8.3" rx="0.6"/><rect x="52.18" y="653.16" width="8.75" height="8.3" rx="0.6"/><rect x="52.18" y="664.63" width="8.75" height="8.3" rx="0.6"/><rect x="52.18" y="676.1" width="8.75" height="8.3" rx="0.6"/><rect x="52.18" y="687.57" width="8.75" height="8.3" rx="0.6"/><rect x="64.36" y="618.75" width="8.75" height="8.3" rx="0.6"/><rect x="64.36" y="630.22" width="8.75" height="8.3" rx="0.6"/><rect x="64.36" y="641.69" width="8.75" height="8.3" rx="0.6"/><rect x="64.36" y="653.16" width="8.75" height="8.3" rx="0.6"/><rect x="64.36" y="664.63" width="8.75" height="8.3" rx="0.6"/><rect x="64.36" y="676.1" width="8.75" height="8.3" rx="0.6"/><rect x="64.36" y="687.57" width="8.75" height="8.3" rx="0.6"/><rect x="76.54" y="618.75" width="8.75" height="8.3" rx="0.6"/><rect x="76.54" y="630.22" width="8.75" height="8.3" rx="0.6"/><rect x="76.54" y="641.69" width="8.75" height="8.3" rx="0.6"/><rect x="76.54" y="653.16" width="8.75" height="8.3" rx="0.6"/><rect x="76.54" y="664.63" width="8.75" height="8.3" rx="0.6"/><rect x="76.54" y="676.1" width="8.75" height="8.3" rx="0.6"/><rect x="88.72" y="618.75" width="8.75" height="8.3" rx="0.6"/><rect x="88.72" y="630.22" width="8.75" height="8.3" rx="0.6"/><rect x="88.72" y="641.69" width="8.75" height="8.3" rx="0.6"/><rect x="88.72" y="653.16" width="8.75" height="8.3" rx="0.6"/><rect x="88.72" y="664.63" width="8.75" height="8.3" rx="0.6"/><rect x="88.72" y="676.1" width="8.75" height="8.3" rx="0.6"/><rect x="100.9" y="618.75" width="8.75" height="8.3" rx="0.6"/><rect x="100.9" y="630.22" width="8.75" height="8.3" rx="0.6"/><rect x="100.9" y="641.69" width="8.75" height="8.3" rx="0.6"/><rect x="100.9" y="653.16" width="8.75" height="8.3" rx="0.6"/><rect x="113.08" y="618.75" width="8.75" height="8.3" rx="0.6"/><rect x="113.08" y="630.22" width="8.75" height="8.3" rx="0.6"/><rect x="113.08" y="641.69" width="8.75" height="8.3" rx="0.6"/><rect x="113.08" y="653.16" width="8.75" height="8.3" rx="0.6"/><rect x="113.08" y="664.63" width="8.75" height="8.3" rx="0.6"/><rect x="125.26" y="618.75" width="8.75" height="8.3" rx="0.6"/><rect x="125.26" y="630.22" width="8.75" height="8.3" rx="0.6"/><rect x="125.26" y="641.69" width="8.75" height="8.3" rx="0.6"/><rect x="125.26" y="653.16" width="8.75" height="8.3" rx="0.6"/><rect x="125.26" y="664.63" width="8.75" height="8.3" rx="0.6"/><rect x="125.26" y="676.1" width="8.75" height="8.3" rx="0.6"/><rect x="125.26" y="687.57" width="8.75" height="8.3" rx="0.6"/><rect x="137.44" y="618.75" width="8.75" height="8.3" rx="0.6"/><rect x="137.44" y="630.22" width="8.75" height="8.3" rx="0.6"/><rect x="137.44" y="641.69" width="8.75" height="8.3" rx="0.6"/><rect x="149.62" y="618.75" width="8.75" height="8.3" rx="0.6"/><rect x="161.8" y="618.75" width="8.75" height="8.3" rx="0.6"/><rect x="161.8" y="630.22" width="8.75" height="8.3" rx="0.6"/><rect x="161.8" y="641.69" width="8.75" height="8.3" rx="0.6"/><rect x="173.98" y="618.75" width="8.75" height="8.3" rx="0.6"/><rect x="173.98" y="630.22" width="8.75" height="8.3" rx="0.6"/><rect x="173.98" y="641.69" width="8.75" height="8.3" rx="0.6"/><rect x="173.98" y="653.16" width="8.75" height="8.3" rx="0.6"/><rect x="186.16" y="618.75" width="8.75" height="8.3" rx="0.6"/><rect x="186.16" y="630.22" width="8.75" height="8.3" rx="0.6"/><rect x="186.16" y="641.69" width="8.75" height="8.3" rx="0.6"/><rect x="186.16" y="653.16" width="8.75" height="8.3" rx="0.6"/><rect x="186.16" y="664.63" width="8.75" height="8.3" rx="0.6"/><rect x="186.16" y="676.1" width="8.75" height="8.3" rx="0.6"/><rect x="198.34" y="618.75" width="8.75" height="8.3" rx="0.6"/><rect x="198.34" y="630.22" width="8.75" height="8.3" rx="0.6"/><rect x="198.34" y="641.69" width="8.75" height="8.3" rx="0.6"/><rect x="198.34" y="653.16" width="8.75" height="8.3" rx="0.6"/><rect x="198.34" y="664.63" width="8.75" height="8.3" rx="0.6"/><rect x="198.34" y="676.1" width="8.75" height="8.3" rx="0.6"/><rect x="198.34" y="687.57" width="8.75" height="8.3" rx="0.6"/><rect x="210.52" y="618.75" width="8.75" height="8.3" rx="0.6"/><rect x="210.52" y="630.22" width="8.75" height="8.3" rx="0.6"/><rect x="210.52" y="641.69" width="8.75" height="8.3" rx="0.6"/><rect x="210.52" y="653.16" width="8.75" height="8.3" rx="0.6"/><rect x="210.52" y="664.63" width="8.75" height="8.3" rx="0.6"/><rect x="210.52" y="676.1" width="8.75" height="8.3" rx="0.6"/><rect x="222.7" y="618.75" width="8.75" height="8.3" rx="0.6"/><rect x="222.7" y="630.22" width="8.75" height="8.3" rx="0.6"/><rect x="234.88" y="618.75" width="8.75" height="8.3" rx="0.6"/><rect x="247.06" y="618.75" width="8.75" height="8.3" rx="0.6"/><rect x="247.06" y="630.22" width="8.75" height="8.3" rx="0.6"/><rect x="247.06" y="641.69" width="8.75" height="8.3" rx="0.6"/></g><g filter="url(#gs)"><rect x="40" y="710.51" width="8.75" height="8.3" rx="0.9" fill="#f560a9"/><rect x="40" y="721.98" width="8.75" height="8.3" rx="0.9" fill="#f560a9"/><rect x="52.18" y="699.04" width="8.75" height="8.3" rx="0.9" fill="#f560a9"/><rect x="52.18" y="710.51" width="8.75" height="8.3" rx="0.9" fill="#f560a9"/><rect x="52.18" y="721.98" width="8.75" height="8.3" rx="0.9" fill="#f560a9"/><rect x="64.36" y="699.04" width="8.75" height="8.3" rx="0.9" fill="#62d2dd"/><rect x="64.36" y="710.51" width="8.75" height="8.3" rx="0.9" fill="#62d2dd"/><rect x="64.36" y="721.98" width="8.75" height="8.3" rx="0.9" fill="#62d2dd"/><rect x="76.54" y="687.57" width="8.75" height="8.3" rx="0.9" fill="#62d2dd"/><rect x="76.54" y="699.04" width="8.75" height="8.3" rx="0.9" fill="#62d2dd"/><rect x="76.54" y="710.51" width="8.75" height="8.3" rx="0.9" fill="#62d2dd"/><rect x="76.54" y="721.98" width="8.75" height="8.3" rx="0.9" fill="#62d2dd"/><rect x="88.72" y="687.57" width="8.75" height="8.3" rx="0.9" fill="#bb62e2"/><rect x="88.72" y="699.04" width="8.75" height="8.3" rx="0.9" fill="#bb62e2"/><rect x="88.72" y="710.51" width="8.75" height="8.3" rx="0.9" fill="#bb62e2"/><rect x="88.72" y="721.98" width="8.75" height="8.3" rx="0.9" fill="#bb62e2"/><rect x="100.9" y="664.63" width="8.75" height="8.3" rx="0.9" fill="#bb62e2"/><rect x="100.9" y="676.1" width="8.75" height="8.3" rx="0.9" fill="#bb62e2"/><rect x="100.9" y="687.57" width="8.75" height="8.3" rx="0.9" fill="#bb62e2"/><rect x="100.9" y="699.04" width="8.75" height="8.3" rx="0.9" fill="#bb62e2"/><rect x="100.9" y="710.51" width="8.75" height="8.3" rx="0.9" fill="#bb62e2"/><rect x="100.9" y="721.98" width="8.75" height="8.3" rx="0.9" fill="#bb62e2"/><rect x="113.08" y="676.1" width="8.75" height="8.3" rx="0.9" fill="#4c69e6"/><rect x="113.08" y="687.57" width="8.75" height="8.3" rx="0.9" fill="#4c69e6"/><rect x="113.08" y="699.04" width="8.75" height="8.3" rx="0.9" fill="#4c69e6"/><rect x="113.08" y="710.51" width="8.75" height="8.3" rx="0.9" fill="#4c69e6"/><rect x="113.08" y="721.98" width="8.75" height="8.3" rx="0.9" fill="#4c69e6"/><rect x="125.26" y="699.04" width="8.75" height="8.3" rx="0.9" fill="#4c69e6"/><rect x="125.26" y="710.51" width="8.75" height="8.3" rx="0.9" fill="#4c69e6"/><rect x="125.26" y="721.98" width="8.75" height="8.3" rx="0.9" fill="#4c69e6"/><rect x="137.44" y="653.16" width="8.75" height="8.3" rx="0.9" fill="#ffbb17"/><rect x="137.44" y="664.63" width="8.75" height="8.3" rx="0.9" fill="#ffbb17"/><rect x="137.44" y="676.1" width="8.75" height="8.3" rx="0.9" fill="#ffbb17"/><rect x="137.44" y="687.57" width="8.75" height="8.3" rx="0.9" fill="#ffbb17"/><rect x="137.44" y="699.04" width="8.75" height="8.3" rx="0.9" fill="#ffbb17"/><rect x="137.44" y="710.51" width="8.75" height="8.3" rx="0.9" fill="#ffbb17"/><rect x="137.44" y="721.98" width="8.75" height="8.3" rx="0.9" fill="#ffbb17"/><rect x="149.62" y="630.22" width="8.75" height="8.3" rx="0.9" fill="#ffbb17"/><rect x="149.62" y="641.69" width="8.75" height="8.3" rx="0.9" fill="#ffbb17"/><rect x="149.62" y="653.16" width="8.75" height="8.3" rx="0.9" fill="#ffbb17"/><rect x="149.62" y="664.63" width="8.75" height="8.3" rx="0.9" fill="#ffbb17"/><rect x="149.62" y="676.1" width="8.75" height="8.3" rx="0.9" fill="#ffbb17"/><rect x="149.62" y="687.57" width="8.75" height="8.3" rx="0.9" fill="#ffbb17"/><rect x="149.62" y="699.04" width="8.75" height="8.3" rx="0.9" fill="#ffbb17"/><rect x="149.62" y="710.51" width="8.75" height="8.3" rx="0.9" fill="#ffbb17"/><rect x="149.62" y="721.98" width="8.75" height="8.3" rx="0.9" fill="#ffbb17"/><rect x="161.8" y="653.16" width="8.75" height="8.3" rx="0.9" fill="#6fe11f"/><rect x="161.8" y="664.63" width="8.75" height="8.3" rx="0.9" fill="#6fe11f"/><rect x="161.8" y="676.1" width="8.75" height="8.3" rx="0.9" fill="#6fe11f"/><rect x="161.8" y="687.57" width="8.75" height="8.3" rx="0.9" fill="#6fe11f"/><rect x="161.8" y="699.04" width="8.75" height="8.3" rx="0.9" fill="#6fe11f"/><rect x="161.8" y="710.51" width="8.75" height="8.3" rx="0.9" fill="#6fe11f"/><rect x="161.8" y="721.98" width="8.75" height="8.3" rx="0.9" fill="#6fe11f"/><rect x="173.98" y="664.63" width="8.75" height="8.3" rx="0.9" fill="#6fe11f"/><rect x="173.98" y="676.1" width="8.75" height="8.3" rx="0.9" fill="#6fe11f"/><rect x="173.98" y="687.57" width="8.75" height="8.3" rx="0.9" fill="#6fe11f"/><rect x="173.98" y="699.04" width="8.75" height="8.3" rx="0.9" fill="#6fe11f"/><rect x="173.98" y="710.51" width="8.75" height="8.3" rx="0.9" fill="#6fe11f"/><rect x="173.98" y="721.98" width="8.75" height="8.3" rx="0.9" fill="#6fe11f"/><rect x="186.16" y="687.57" width="8.75" height="8.3" rx="0.9" fill="#62d2dd"/><rect x="186.16" y="699.04" width="8.75" height="8.3" rx="0.9" fill="#62d2dd"/><rect x="186.16" y="710.51" width="8.75" height="8.3" rx="0.9" fill="#62d2dd"/><rect x="186.16" y="721.98" width="8.75" height="8.3" rx="0.9" fill="#62d2dd"/><rect x="198.34" y="699.04" width="8.75" height="8.3" rx="0.9" fill="#62d2dd"/><rect x="198.34" y="710.51" width="8.75" height="8.3" rx="0.9" fill="#62d2dd"/><rect x="198.34" y="721.98" width="8.75" height="8.3" rx="0.9" fill="#62d2dd"/><rect x="210.52" y="687.57" width="8.75" height="8.3" rx="0.9" fill="#f560a9"/><rect x="210.52" y="699.04" width="8.75" height="8.3" rx="0.9" fill="#f560a9"/><rect x="210.52" y="710.51" width="8.75" height="8.3" rx="0.9" fill="#f560a9"/><rect x="210.52" y="721.98" width="8.75" height="8.3" rx="0.9" fill="#f560a9"/><rect x="222.7" y="641.69" width="8.75" height="8.3" rx="0.9" fill="#f560a9"/><rect x="222.7" y="653.16" width="8.75" height="8.3" rx="0.9" fill="#f560a9"/><rect x="222.7" y="664.63" width="8.75" height="8.3" rx="0.9" fill="#f560a9"/><rect x="222.7" y="676.1" width="8.75" height="8.3" rx="0.9" fill="#f560a9"/><rect x="222.7" y="687.57" width="8.75" height="8.3" rx="0.9" fill="#f560a9"/><rect x="222.7" y="699.04" width="8.75" height="8.3" rx="0.9" fill="#f560a9"/><rect x="222.7" y="710.51" width="8.75" height="8.3" rx="0.9" fill="#f560a9"/><rect x="222.7" y="721.98" width="8.75" height="8.3" rx="0.9" fill="#f560a9"/><rect x="234.88" y="630.22" width="8.75" height="8.3" rx="0.9" fill="#62d2dd"/><rect x="234.88" y="641.69" width="8.75" height="8.3" rx="0.9" fill="#62d2dd"/><rect x="234.88" y="653.16" width="8.75" height="8.3" rx="0.9" fill="#62d2dd"/><rect x="234.88" y="664.63" width="8.75" height="8.3" rx="0.9" fill="#62d2dd"/><rect x="234.88" y="676.1" width="8.75" height="8.3" rx="0.9" fill="#62d2dd"/><rect x="234.88" y="687.57" width="8.75" height="8.3" rx="0.9" fill="#62d2dd"/><rect x="234.88" y="699.04" width="8.75" height="8.3" rx="0.9" fill="#62d2dd"/><rect x="234.88" y="710.51" width="8.75" height="8.3" rx="0.9" fill="#62d2dd"/><rect x="234.88" y="721.98" width="8.75" height="8.3" rx="0.9" fill="#62d2dd"/><rect x="247.06" y="653.16" width="8.75" height="8.3" rx="0.9" fill="#62d2dd"/><rect x="247.06" y="664.63" width="8.75" height="8.3" rx="0.9" fill="#62d2dd"/><rect x="247.06" y="676.1" width="8.75" height="8.3" rx="0.9" fill="#62d2dd"/><rect x="247.06" y="687.57" width="8.75" height="8.3" rx="0.9" fill="#62d2dd"/><rect x="247.06" y="699.04" width="8.75" height="8.3" rx="0.9" fill="#62d2dd"/><rect x="247.06" y="710.51" width="8.75" height="8.3" rx="0.9" fill="#62d2dd"/><rect x="247.06" y="721.98" width="8.75" height="8.3" rx="0.9" fill="#62d2dd"/></g></svg>
<span class="t" style="left:40.75px;top:737px;font-size:4.58px;line-height:6px;color:#5a6678;-webkit-text-stroke:0.1px #5a6678;">Lorem ipsum dolor sit amet, consectetur adipiscing elit. Proin eget placerat lorem. Nullam mattis lacus non</span>
<span class="t" style="left:40.75px;top:745px;font-size:4.54px;line-height:6px;color:#5a6678;-webkit-text-stroke:0.1px #5a6678;">volutpat sodales. Ut enim est, vestibulum.</span>
<div class="b" style="left:277.6px;top:618.35px;width:4.8px;height:4.8px;border-radius:50%;background:#3d6e1f;box-shadow:-1px 1.2px 2px rgba(0,0,0,.22);"></div>
<span class="t" style="left:285.75px;top:616px;font-size:4.57px;line-height:6px;color:#858585;-webkit-text-stroke:0.1px #858585;">Anim id est</span>
<span class="t" style="left:285.75px;top:622px;font-size:4.58px;line-height:6px;color:#858585;-webkit-text-stroke:0.1px #858585;">laborum.</span>
<div class="b" style="left:277.6px;top:645.6px;width:4.8px;height:4.8px;border-radius:50%;background:#5b1c8c;box-shadow:-1px 1.2px 2px rgba(0,0,0,.22);"></div>
<span class="t" style="left:285.75px;top:643px;font-size:4.57px;line-height:6px;color:#858585;-webkit-text-stroke:0.1px #858585;">Anim id est</span>
<span class="t" style="left:285.75px;top:649px;font-size:4.58px;line-height:6px;color:#858585;-webkit-text-stroke:0.1px #858585;">laborum.</span>
<div class="b" style="left:277.6px;top:674.35px;width:4.8px;height:4.8px;border-radius:50%;background:#47b7c2;box-shadow:-1px 1.2px 2px rgba(0,0,0,.22);"></div>
<span class="t" style="left:285.75px;top:673px;font-size:4.57px;line-height:6px;color:#858585;-webkit-text-stroke:0.1px #858585;">Anim id est</span>
<span class="t" style="left:285.75px;top:679px;font-size:4.58px;line-height:6px;color:#858585;-webkit-text-stroke:0.1px #858585;">laborum.</span>
<div class="b" style="left:277.6px;top:703.35px;width:4.8px;height:4.8px;border-radius:50%;background:#b8922c;box-shadow:-1px 1.2px 2px rgba(0,0,0,.22);"></div>
<span class="t" style="left:285.75px;top:701px;font-size:4.57px;line-height:6px;color:#858585;-webkit-text-stroke:0.1px #858585;">Anim id est</span>
<span class="t" style="left:285.75px;top:707px;font-size:4.58px;line-height:6px;color:#858585;-webkit-text-stroke:0.1px #858585;">laborum.</span>
<div class="b" style="left:277.6px;top:732.35px;width:4.8px;height:4.8px;border-radius:50%;background:#1b2fb2;box-shadow:-1px 1.2px 2px rgba(0,0,0,.22);"></div>
<span class="t" style="left:285.75px;top:730px;font-size:4.57px;line-height:6px;color:#858585;-webkit-text-stroke:0.1px #858585;">Anim id est</span>
<span class="t" style="left:285.75px;top:736px;font-size:4.58px;line-height:6px;color:#858585;-webkit-text-stroke:0.1px #858585;">laborum.</span>
<div class="b" style="left:330.85px;top:618.35px;width:4.8px;height:4.8px;border-radius:50%;background:#5772e2;box-shadow:-1px 1.2px 2px rgba(0,0,0,.22);"></div>
<span class="t" style="left:339.25px;top:616px;font-size:4.57px;line-height:6px;color:#858585;-webkit-text-stroke:0.1px #858585;">Anim id est</span>
<span class="t" style="left:339.25px;top:622px;font-size:4.58px;line-height:6px;color:#858585;-webkit-text-stroke:0.1px #858585;">laborum.</span>
<div class="b" style="left:330.85px;top:645.6px;width:4.8px;height:4.8px;border-radius:50%;background:#ba6ae2;box-shadow:-1px 1.2px 2px rgba(0,0,0,.22);"></div>
<span class="t" style="left:339.25px;top:643px;font-size:4.57px;line-height:6px;color:#858585;-webkit-text-stroke:0.1px #858585;">Anim id est</span>
<span class="t" style="left:339.25px;top:649px;font-size:4.58px;line-height:6px;color:#858585;-webkit-text-stroke:0.1px #858585;">laborum.</span>
<div class="b" style="left:330.85px;top:674.35px;width:4.8px;height:4.8px;border-radius:50%;background:#7de242;box-shadow:-1px 1.2px 2px rgba(0,0,0,.22);"></div>
<span class="t" style="left:339.25px;top:673px;font-size:4.57px;line-height:6px;color:#858585;-webkit-text-stroke:0.1px #858585;">Anim id est</span>
<span class="t" style="left:339.25px;top:679px;font-size:4.58px;line-height:6px;color:#858585;-webkit-text-stroke:0.1px #858585;">laborum.</span>
<div class="b" style="left:330.85px;top:703.35px;width:4.8px;height:4.8px;border-radius:50%;background:#f6ba32;box-shadow:-1px 1.2px 2px rgba(0,0,0,.22);"></div>
<span class="t" style="left:339.25px;top:701px;font-size:4.57px;line-height:6px;color:#858585;-webkit-text-stroke:0.1px #858585;">Anim id est</span>
<span class="t" style="left:339.25px;top:707px;font-size:4.58px;line-height:6px;color:#858585;-webkit-text-stroke:0.1px #858585;">laborum.</span>
<div class="b" style="left:330.85px;top:732.35px;width:4.8px;height:4.8px;border-radius:50%;background:#ea6aaa;box-shadow:-1px 1.2px 2px rgba(0,0,0,.22);"></div>
<span class="t" style="left:339.25px;top:730px;font-size:4.57px;line-height:6px;color:#858585;-webkit-text-stroke:0.1px #858585;">Anim id est</span>
<span class="t" style="left:339.25px;top:736px;font-size:4.58px;line-height:6px;color:#858585;-webkit-text-stroke:0.1px #858585;">laborum.</span>
<span class="t" style="left:345px;top:764px;font-size:4.22px;line-height:6px;color:#858585;-webkit-text-stroke:0.12px #858585;">Page_10</span>
<span class="t" style="left:440.6px;top:579px;font-size:16.82px;line-height:20px;color:#0c0c0c;-webkit-text-stroke:0.3px #111;">BAR Chart</span>
<span class="t" style="left:440px;top:601px;font-size:6.84px;line-height:8px;color:#141414;-webkit-text-stroke:0.2px #141414;">Infographic Presentation Template</span>
<span class="t" style="left:704.25px;top:589px;font-size:4.24px;line-height:6px;color:#222;font-weight:700;font-style:italic;-webkit-text-stroke:0.07px #222;">Note :</span>
<span class="t" style="left:704.25px;top:598px;font-size:4.58px;line-height:6px;color:#2b2b2b;-webkit-text-stroke:0.12px #2b2b2b;">Lorem ipsum dolor sit amet,</span>
<span class="t" style="left:704.25px;top:604px;font-size:4.54px;line-height:6px;color:#2b2b2b;-webkit-text-stroke:0.12px #2b2b2b;">consectetuer adipiscing elit.</span>
<div class="b" style="left:423.75px;top:619.5px;width:16.3px;height:105.5px;background:#f3f3f3;border-radius:4.5px / 12px;"></div>
<div class="b" style="left:444.85px;top:619.5px;width:16.3px;height:105.5px;background:#f3f3f3;border-radius:4.5px / 12px;"></div>
<div class="b" style="left:465.95px;top:619.5px;width:16.3px;height:105.5px;background:#f3f3f3;border-radius:4.5px / 12px;"></div>
<div class="b" style="left:487.05px;top:619.5px;width:16.3px;height:105.5px;background:#f3f3f3;border-radius:4.5px / 12px;"></div>
<div class="b" style="left:508.15px;top:619.5px;width:16.3px;height:105.5px;background:#f3f3f3;border-radius:4.5px / 12px;"></div>
<div class="b" style="left:529.25px;top:619.5px;width:16.3px;height:105.5px;background:#f3f3f3;border-radius:4.5px / 12px;"></div>
<div class="b" style="left:550.35px;top:619.5px;width:16.3px;height:105.5px;background:#f3f3f3;border-radius:4.5px / 12px;"></div>
<div class="b" style="left:571.45px;top:619.5px;width:16.3px;height:105.5px;background:#f3f3f3;border-radius:4.5px / 12px;"></div>
<div class="b" style="left:592.55px;top:619.5px;width:16.3px;height:105.5px;background:#f3f3f3;border-radius:4.5px / 12px;"></div>
<div class="b" style="left:613.65px;top:619.5px;width:16.3px;height:105.5px;background:#f3f3f3;border-radius:4.5px / 12px;"></div>
<div class="b" style="left:634.75px;top:619.5px;width:16.3px;height:105.5px;background:#f3f3f3;border-radius:4.5px / 12px;"></div>
<div class="b" style="left:655.85px;top:619.5px;width:16.3px;height:105.5px;background:#f3f3f3;border-radius:4.5px / 12px;"></div>
<div class="b" style="left:676.95px;top:619.5px;width:16.3px;height:105.5px;background:#f3f3f3;border-radius:4.5px / 12px;"></div>
<div class="b" style="left:698.05px;top:619.5px;width:16.3px;height:105.5px;background:#f3f3f3;border-radius:4.5px / 12px;"></div>
<div class="b" style="left:719.15px;top:619.5px;width:16.3px;height:105.5px;background:#f3f3f3;border-radius:4.5px / 12px;"></div>
<div class="b" style="left:740.25px;top:619.5px;width:16.3px;height:105.5px;background:#f3f3f3;border-radius:4.5px / 12px;"></div>
<div class="b" style="left:761.35px;top:619.5px;width:16.3px;height:105.5px;background:#f3f3f3;border-radius:4.5px / 12px;"></div>
<div class="b" style="left:421.5px;top:731.45px;width:359.5px;height:0.6px;background:#e9a3cf;"></div>
<div class="b" style="left:420.4px;top:730.75px;width:2px;height:2px;background:#e060a8;border-radius:1px;"></div>
<div class="b" style="left:780.2px;top:730.75px;width:2px;height:2px;background:#e060a8;border-radius:1px;"></div>
<div class="b" style="left:440.95px;top:729.25px;width:0.6px;height:5px;background:#e9a3cf;"></div>
<span class="t" style="left:438.65px;top:741px;font-size:3.94px;line-height:6px;color:#6a7a8a;-webkit-text-stroke:0.08px #6a7a8a;">Q1</span>
<span class="t" style="left:435.25px;top:754px;font-size:5.39px;line-height:7px;color:#ea62ab;font-weight:700;-webkit-text-stroke:0.07px #ea62ab;">2019</span>
<div class="b" style="left:462.11px;top:729.25px;width:0.6px;height:5px;background:#e9a3cf;"></div>
<span class="t" style="left:459.81px;top:741px;font-size:3.94px;line-height:6px;color:#6a7a8a;-webkit-text-stroke:0.08px #6a7a8a;">Q2</span>
<div class="b" style="left:483.27px;top:729.25px;width:0.6px;height:5px;background:#e9a3cf;"></div>
<span class="t" style="left:480.97px;top:741px;font-size:3.94px;line-height:6px;color:#6a7a8a;-webkit-text-stroke:0.08px #6a7a8a;">Q3</span>
<div class="b" style="left:504.43px;top:729.25px;width:0.6px;height:5px;background:#e9a3cf;"></div>
<span class="t" style="left:502.13px;top:741px;font-size:3.94px;line-height:6px;color:#6a7a8a;-webkit-text-stroke:0.08px #6a7a8a;">Q4</span>
<div class="b" style="left:525.59px;top:729.25px;width:0.6px;height:5px;background:#e9a3cf;"></div>
<span class="t" style="left:523.29px;top:741px;font-size:3.94px;line-height:6px;color:#6a7a8a;-webkit-text-stroke:0.08px #6a7a8a;">Q1</span>
<span class="t" style="left:519.89px;top:754px;font-size:5.39px;line-height:7px;color:#ea62ab;font-weight:700;-webkit-text-stroke:0.07px #ea62ab;">2020</span>
<div class="b" style="left:546.75px;top:729.25px;width:0.6px;height:5px;background:#e9a3cf;"></div>
<span class="t" style="left:544.45px;top:741px;font-size:3.94px;line-height:6px;color:#6a7a8a;-webkit-text-stroke:0.08px #6a7a8a;">Q2</span>
<div class="b" style="left:567.91px;top:729.25px;width:0.6px;height:5px;background:#e9a3cf;"></div>
<span class="t" style="left:565.61px;top:741px;font-size:3.94px;line-height:6px;color:#6a7a8a;-webkit-text-stroke:0.08px #6a7a8a;">Q3</span>
<div class="b" style="left:589.07px;top:729.25px;width:0.6px;height:5px;background:#e9a3cf;"></div>
<span class="t" style="left:586.77px;top:741px;font-size:3.94px;line-height:6px;color:#6a7a8a;-webkit-text-stroke:0.08px #6a7a8a;">Q4</span>
<div class="b" style="left:610.23px;top:729.25px;width:0.6px;height:5px;background:#e9a3cf;"></div>
<span class="t" style="left:607.93px;top:741px;font-size:3.94px;line-height:6px;color:#6a7a8a;-webkit-text-stroke:0.08px #6a7a8a;">Q1</span>
<span class="t" style="left:604.53px;top:754px;font-size:5.39px;line-height:7px;color:#ea62ab;font-weight:700;-webkit-text-stroke:0.07px #ea62ab;">2021</span>
<div class="b" style="left:631.39px;top:729.25px;width:0.6px;height:5px;background:#e9a3cf;"></div>
<span class="t" style="left:629.09px;top:741px;font-size:3.94px;line-height:6px;color:#6a7a8a;-webkit-text-stroke:0.08px #6a7a8a;">Q2</span>
<div class="b" style="left:652.55px;top:729.25px;width:0.6px;height:5px;background:#e9a3cf;"></div>
<span class="t" style="left:650.25px;top:741px;font-size:3.94px;line-height:6px;color:#6a7a8a;-webkit-text-stroke:0.08px #6a7a8a;">Q3</span>
<div class="b" style="left:673.71px;top:729.25px;width:0.6px;height:5px;background:#e9a3cf;"></div>
<span class="t" style="left:671.41px;top:741px;font-size:3.94px;line-height:6px;color:#6a7a8a;-webkit-text-stroke:0.08px #6a7a8a;">Q4</span>
<div class="b" style="left:694.87px;top:729.25px;width:0.6px;height:5px;background:#e9a3cf;"></div>
<span class="t" style="left:692.57px;top:741px;font-size:3.94px;line-height:6px;color:#6a7a8a;-webkit-text-stroke:0.08px #6a7a8a;">Q1</span>
<span class="t" style="left:689.17px;top:754px;font-size:5.39px;line-height:7px;color:#ea62ab;font-weight:700;-webkit-text-stroke:0.07px #ea62ab;">2022</span>
<div class="b" style="left:716.03px;top:729.25px;width:0.6px;height:5px;background:#e9a3cf;"></div>
<span class="t" style="left:713.73px;top:741px;font-size:3.94px;line-height:6px;color:#6a7a8a;-webkit-text-stroke:0.08px #6a7a8a;">Q2</span>
<div class="b" style="left:737.19px;top:729.25px;width:0.6px;height:5px;background:#e9a3cf;"></div>
<span class="t" style="left:734.89px;top:741px;font-size:3.94px;line-height:6px;color:#6a7a8a;-webkit-text-stroke:0.08px #6a7a8a;">Q3</span>
<div class="b" style="left:758.35px;top:729.25px;width:0.6px;height:5px;background:#e9a3cf;"></div>
<span class="t" style="left:756.05px;top:741px;font-size:3.94px;line-height:6px;color:#6a7a8a;-webkit-text-stroke:0.08px #6a7a8a;">Q4</span>
<div class="b" style="left:429.5px;top:633.05px;width:264.25px;height:9.4px;background:#4d6bf8;box-shadow:-0.5px 1.2px 2.5px rgba(0,0,0,.25);"></div>
<span class="t" style="left:545.05px;top:635px;font-size:5.07px;line-height:7px;color:#fff;font-weight:700;-webkit-text-stroke:0.07px #fff;">Project Name</span>
<div class="b" style="left:457px;top:648.7px;width:101.75px;height:9.4px;background:#2fbcc6;box-shadow:-0.5px 1.2px 2.5px rgba(0,0,0,.25);"></div>
<span class="t" style="left:493.3px;top:650px;font-size:5.07px;line-height:7px;color:#fff;font-weight:700;-webkit-text-stroke:0.07px #fff;">Project Name</span>
<div class="b" style="left:527.5px;top:663.3px;width:215.5px;height:9.4px;background:#ffbf0a;box-shadow:-0.5px 1.2px 2.5px rgba(0,0,0,.25);"></div>
<span class="t" style="left:618.8px;top:665px;font-size:5.07px;line-height:7px;color:#fff;font-weight:700;-webkit-text-stroke:0.07px #fff;">Project Name</span>
<div class="b" style="left:616.25px;top:678.55px;width:155.75px;height:9.4px;background:#fb63af;box-shadow:-0.5px 1.2px 2.5px rgba(0,0,0,.25);"></div>
<span class="t" style="left:677.55px;top:680px;font-size:5.07px;line-height:7px;color:#fff;font-weight:700;-webkit-text-stroke:0.07px #fff;">Project Name</span>
<div class="b" style="left:513px;top:693.6px;width:98.25px;height:9.4px;background:#6fe906;box-shadow:-0.5px 1.2px 2.5px rgba(0,0,0,.25);"></div>
<span class="t" style="left:546.3px;top:695px;font-size:5.07px;line-height:7px;color:#fff;font-weight:700;-webkit-text-stroke:0.07px #fff;">Project Name</span>
<div class="b" style="left:570px;top:709px;width:161.25px;height:9.4px;background:#a724e6;box-shadow:-0.5px 1.2px 2.5px rgba(0,0,0,.25);"></div>
<span class="t" style="left:633.8px;top:710px;font-size:5.07px;line-height:7px;color:#fff;font-weight:700;-webkit-text-stroke:0.07px #fff;">Project Name</span>
<svg class="b" style="left:0;top:0;width:0;height:0"><defs><filter id="cs2" x="-50%" y="-50%" width="200%" height="200%"><feGaussianBlur stdDeviation="1.3"/></filter></defs></svg>
<svg class="b" style="left:415.5px;top:623.75px;width:28px;height:28px" viewBox="-14 -14 28 28"><circle cx="-1" cy="1.5" r="7" fill="rgba(0,0,0,.3)" filter="url(#cs2)"/><circle r="7.55" fill="#fff" stroke="#3d50b8" stroke-width="0.6"/></svg>
<span class="t" style="left:427.05px;top:635px;font-size:4.41px;line-height:6px;color:#111;font-weight:700;-webkit-text-stroke:0.07px #111;">1k</span>
<svg class="b" style="left:679.75px;top:623.75px;width:28px;height:28px" viewBox="-14 -14 28 28"><circle cx="-1" cy="1.5" r="7" fill="rgba(0,0,0,.3)" filter="url(#cs2)"/><circle r="7.55" fill="#fff" stroke="#3d50b8" stroke-width="0.6"/></svg>
<span class="t" style="left:690.55px;top:635px;font-size:3.88px;line-height:6px;color:#111;font-weight:700;-webkit-text-stroke:0.05px #111;">12k</span>
<svg class="b" style="left:443px;top:639.4px;width:28px;height:28px" viewBox="-14 -14 28 28"><circle cx="-1" cy="1.5" r="7" fill="rgba(0,0,0,.3)" filter="url(#cs2)"/><circle r="7.55" fill="#fff" stroke="#25909a" stroke-width="0.6"/></svg>
<span class="t" style="left:454.55px;top:651px;font-size:4.41px;line-height:6px;color:#111;font-weight:700;-webkit-text-stroke:0.07px #111;">2k</span>
<svg class="b" style="left:544.75px;top:639.4px;width:28px;height:28px" viewBox="-14 -14 28 28"><circle cx="-1" cy="1.5" r="7" fill="rgba(0,0,0,.3)" filter="url(#cs2)"/><circle r="7.55" fill="#fff" stroke="#25909a" stroke-width="0.6"/></svg>
<span class="t" style="left:556.3px;top:651px;font-size:4.41px;line-height:6px;color:#111;font-weight:700;-webkit-text-stroke:0.07px #111;">6k</span>
<svg class="b" style="left:513.5px;top:654px;width:28px;height:28px" viewBox="-14 -14 28 28"><circle cx="-1" cy="1.5" r="7" fill="rgba(0,0,0,.3)" filter="url(#cs2)"/><circle r="7.55" fill="#fff" stroke="#c89a14" stroke-width="0.6"/></svg>
<span class="t" style="left:525.05px;top:666px;font-size:4.41px;line-height:6px;color:#111;font-weight:700;-webkit-text-stroke:0.07px #111;">5k</span>
<svg class="b" style="left:729px;top:654px;width:28px;height:28px" viewBox="-14 -14 28 28"><circle cx="-1" cy="1.5" r="7" fill="rgba(0,0,0,.3)" filter="url(#cs2)"/><circle r="7.55" fill="#fff" stroke="#c89a14" stroke-width="0.6"/></svg>
<span class="t" style="left:739.8px;top:665px;font-size:3.88px;line-height:6px;color:#111;font-weight:700;-webkit-text-stroke:0.05px #111;">18k</span>
<svg class="b" style="left:602.25px;top:669.25px;width:28px;height:28px" viewBox="-14 -14 28 28"><circle cx="-1" cy="1.5" r="7" fill="rgba(0,0,0,.3)" filter="url(#cs2)"/><circle r="7.55" fill="#fff" stroke="#b8487f" stroke-width="0.6"/></svg>
<span class="t" style="left:613.8px;top:681px;font-size:4.41px;line-height:6px;color:#111;font-weight:700;-webkit-text-stroke:0.07px #111;">8k</span>
<svg class="b" style="left:758px;top:669.25px;width:28px;height:28px" viewBox="-14 -14 28 28"><circle cx="-1" cy="1.5" r="7" fill="rgba(0,0,0,.3)" filter="url(#cs2)"/><circle r="7.55" fill="#fff" stroke="#b8487f" stroke-width="0.6"/></svg>
<span class="t" style="left:768.8px;top:681px;font-size:3.88px;line-height:6px;color:#111;font-weight:700;-webkit-text-stroke:0.05px #111;">19k</span>
<svg class="b" style="left:499px;top:684.3px;width:28px;height:28px" viewBox="-14 -14 28 28"><circle cx="-1" cy="1.5" r="7" fill="rgba(0,0,0,.3)" filter="url(#cs2)"/><circle r="7.55" fill="#fff" stroke="#58a822" stroke-width="0.6"/></svg>
<span class="t" style="left:510.55px;top:696px;font-size:4.41px;line-height:6px;color:#111;font-weight:700;-webkit-text-stroke:0.07px #111;">5k</span>
<svg class="b" style="left:597.25px;top:684.3px;width:28px;height:28px" viewBox="-14 -14 28 28"><circle cx="-1" cy="1.5" r="7" fill="rgba(0,0,0,.3)" filter="url(#cs2)"/><circle r="7.55" fill="#fff" stroke="#58a822" stroke-width="0.6"/></svg>
<span class="t" style="left:608.8px;top:696px;font-size:4.41px;line-height:6px;color:#111;font-weight:700;-webkit-text-stroke:0.07px #111;">7k</span>
<svg class="b" style="left:556px;top:699.7px;width:28px;height:28px" viewBox="-14 -14 28 28"><circle cx="-1" cy="1.5" r="7" fill="rgba(0,0,0,.3)" filter="url(#cs2)"/><circle r="7.55" fill="#fff" stroke="#7d22a8" stroke-width="0.6"/></svg>
<span class="t" style="left:567.55px;top:711px;font-size:4.41px;line-height:6px;color:#111;font-weight:700;-webkit-text-stroke:0.07px #111;">6k</span>
<svg class="b" style="left:717.25px;top:699.7px;width:28px;height:28px" viewBox="-14 -14 28 28"><circle cx="-1" cy="1.5" r="7" fill="rgba(0,0,0,.3)" filter="url(#cs2)"/><circle r="7.55" fill="#fff" stroke="#7d22a8" stroke-width="0.6"/></svg>
<span class="t" style="left:728.05px;top:711px;font-size:3.88px;line-height:6px;color:#111;font-weight:700;-webkit-text-stroke:0.05px #111;">17k</span>
<span class="t" style="left:744px;top:764px;font-size:4.43px;line-height:6px;color:#858585;-webkit-text-stroke:0.12px #858585;">Page_11</span>
</body>
</html>
